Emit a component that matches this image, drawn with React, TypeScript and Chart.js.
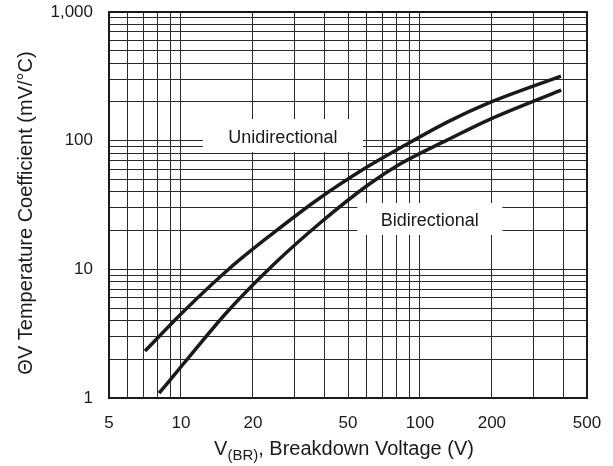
import React, { useEffect, useRef } from "react";
import { Chart, registerables } from "chart.js";

Chart.register(...registerables);

// Breakdown voltage (V) and temperature coefficient (mV/°C)
const uniVoltage = [7.07, 10.4, 16, 24.3, 37.1, 60, 82.5, 130, 193, 389];
const uniCoeff = [2.32, 4.83, 10.2, 19.1, 34.6, 62.3, 87.6, 139.5, 196, 318];

const biVoltage = [8.1, 10.4, 15.6, 24.3, 38.2, 60.6, 82.5, 129.8, 193, 390];
const biCoeff = [1.09, 1.905, 4.66, 10.8, 22.9, 45.2, 65.8, 101, 144.5, 247];

const xTickValues = [5, 6, 7, 8, 9, 10, 20, 30, 40, 50, 60, 70, 80, 90, 100, 200, 300, 400, 500];
const xTickLabels = [5, 10, 20, 50, 100, 200, 500];
const yTickValues = [
  1, 2, 3, 4, 5, 6, 7, 8, 9,
  10, 20, 30, 40, 50, 60, 70, 80, 90,
  100, 200, 300, 400, 500, 600, 700, 800, 900, 1000,
];
const yTickLabels: Record<number, string> = { 1: "1", 10: "10", 100: "100", 1000: "1,000" };

const curveLabels = [
  { text: "Unidirectional", x: 26.7, y: 109.6, w: 160, h: 33 },
  { text: "Bidirectional", x: 110, y: 24.6, w: 145, h: 32 },
];

const FONT = "'Liberation Sans', Arial, sans-serif";
const INK = "#1a1a1a";

const decorPlugin = {
  id: "decor",
  beforeDatasetsDraw(chart: any) {
    const { ctx, scales } = chart;
    const xs = scales.x;
    const ys = scales.y;
    ctx.save();
    curveLabels.forEach((l) => {
      const cx = xs.getPixelForValue(l.x);
      const cy = ys.getPixelForValue(l.y);
      ctx.fillStyle = "#ffffff";
      ctx.fillRect(cx - l.w / 2, cy - l.h / 2, l.w, l.h);
      ctx.fillStyle = INK;
      ctx.font = `18px ${FONT}`;
      ctx.textAlign = "center";
      ctx.textBaseline = "middle";
      ctx.fillText(l.text, cx, cy + 2);
    });
    ctx.restore();
  },
  afterDraw(chart: any) {
    const { ctx, chartArea } = chart;
    ctx.save();
    ctx.strokeStyle = INK;
    ctx.lineWidth = 2;
    ctx.strokeRect(chartArea.left, chartArea.top, chartArea.right - chartArea.left, chartArea.bottom - chartArea.top);

    ctx.fillStyle = INK;
    const mainFont = `20px ${FONT}`;
    const subFont = `15px ${FONT}`;
    const p1 = "V";
    const p2 = "(BR)";
    const p3 = ", Breakdown Voltage (V)";
    ctx.font = mainFont;
    const w1 = ctx.measureText(p1).width;
    const w3 = ctx.measureText(p3).width;
    ctx.font = subFont;
    const w2 = ctx.measureText(p2).width;
    const total = w1 + w2 + w3;
    const cx = (chartArea.left + chartArea.right) / 2 - 4;
    let x0 = cx - total / 2;
    const base = 455;
    ctx.textAlign = "left";
    ctx.textBaseline = "alphabetic";
    ctx.font = mainFont;
    ctx.fillText(p1, x0, base);
    x0 += w1;
    ctx.font = subFont;
    ctx.fillText(p2, x0, base + 5);
    x0 += w2;
    ctx.font = mainFont;
    ctx.fillText(p3, x0, base);

    ctx.translate(32, 213);
    ctx.rotate(-Math.PI / 2);
    ctx.textAlign = "center";
    ctx.font = mainFont;
    ctx.fillText("\u0398V Temperature Coefficient (mV/\u00B0C)", 0, 0);
    ctx.restore();
  },
};

export default function App() {
  const canvasRef = useRef<HTMLCanvasElement | null>(null);

  useEffect(() => {
    const canvas = canvasRef.current;
    if (!canvas) return;
    const chart = new Chart(canvas, {
      type: "line",
      data: {
        datasets: [
          {
            label: "Unidirectional",
            data: uniVoltage.map((v, i) => ({ x: v, y: uniCoeff[i] })),
            borderColor: INK,
            borderWidth: 3.5,
            pointRadius: 0,
            cubicInterpolationMode: "monotone",
            fill: false,
          },
          {
            label: "Bidirectional",
            data: biVoltage.map((v, i) => ({ x: v, y: biCoeff[i] })),
            borderColor: INK,
            borderWidth: 3.5,
            pointRadius: 0,
            cubicInterpolationMode: "monotone",
            fill: false,
          },
        ],
      },
      options: {
        animation: false,
        responsive: false,
        devicePixelRatio: 1,
        layout: { padding: { top: 12, right: 26, left: 0, bottom: 0 } },
        plugins: {
          legend: { display: false },
          tooltip: { enabled: false },
          title: { display: false },
        },
        scales: {
          x: {
            type: "logarithmic",
            min: 5,
            max: 500,
            afterBuildTicks: (scale: any) => {
              scale.ticks = xTickValues.map((v) => ({ value: v }));
            },
            afterFit: (scale: any) => {
              scale.height = 68;
              scale.paddingLeft = 0;
              scale.paddingRight = 0;
            },
            grid: { color: "#2a2a2a", lineWidth: 1, drawTicks: false },
            border: { display: false },
            ticks: {
              autoSkip: false,
              maxRotation: 0,
              padding: 15,
              color: INK,
              font: { family: FONT, size: 17 },
              callback: (value: any) => (xTickLabels.includes(Number(value)) ? String(value) : ""),
            },
          },
          y: {
            type: "logarithmic",
            min: 1,
            max: 1000,
            afterBuildTicks: (scale: any) => {
              scale.ticks = yTickValues.map((v) => ({ value: v }));
            },
            afterFit: (scale: any) => {
              scale.width = 109;
              scale.paddingTop = 0;
              scale.paddingBottom = 0;
            },
            grid: { color: "#2a2a2a", lineWidth: 1, drawTicks: false },
            border: { display: false },
            ticks: {
              autoSkip: false,
              padding: 16,
              color: INK,
              font: { family: FONT, size: 17 },
              callback: (value: any) => yTickLabels[Number(value)] ?? "",
            },
          },
        },
      } as any,
      plugins: [decorPlugin],
    });
    return () => chart.destroy();
  }, []);

  return (
    <div style={{ position: "fixed", left: 0, top: 0, width: 613, height: 466, background: "#fff" }}>
      <canvas ref={canvasRef} width={613} height={466} style={{ display: "block" }} />
    </div>
  );
}
